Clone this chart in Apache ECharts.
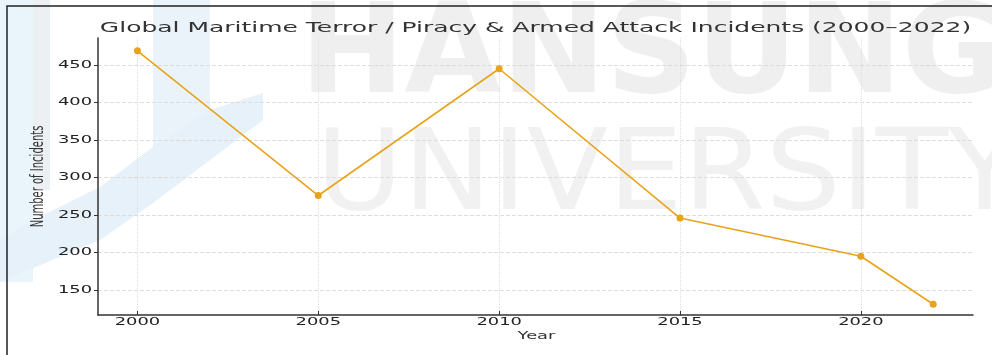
<!DOCTYPE html>
<html>
<head>
<meta charset="utf-8">
<script src="https://cdn.jsdelivr.net/npm/echarts@6/dist/echarts.min.js"></script>
<style>
  html, body { margin: 0; padding: 0; background: #fff; }
  #main { width: 992px; height: 355px; }
</style>
</head>
<body>
<div id="main"></div>
<script>
// data
var years = [2000, 2005, 2010, 2015, 2020, 2022];
var incidents = [469, 276, 445, 246, 195, 131];
var xTicks = [2000, 2005, 2010, 2015, 2020];
var yTicks = [150, 200, 250, 300, 350, 400, 450];

var titleText = 'Global Maritime Terror / Piracy & Armed Attack Incidents (2000\u20132022)';
var xName = 'Year';
var yName = 'Number of Incidents';

var chart = echarts.init(document.getElementById('main'));

var lineColor = '#E9A31B';
var textColor = '#333';
var font = 'DejaVu Sans';
var stretch = 1.7; // the picture is wider than it is tall, text looks stretched

var xMin = 1998.91, xMax = 2023.1;
var yMin = 116.7, yMax = 486;

// background decoration (watermark + frame)
var deco = [
  {
    type: 'rect', z: -20, silent: true,
    shape: { x: 0, y: 0, width: 33, height: 282 },
    style: { fill: '#e9f4fb' }
  },
  {
    type: 'rect', z: -20, silent: true,
    shape: { x: 33, y: 0, width: 17, height: 190 },
    style: { fill: '#edf0f3' }
  },
  {
    type: 'rect', z: -20, silent: true,
    shape: { x: 153, y: 0, width: 57, height: 160 },
    style: { fill: '#eaf3f9' }
  },
  {
    type: 'polygon', z: -19, silent: true,
    shape: {
      points: [[0, 240], [33, 220], [100, 187], [153, 147], [210, 110], [263, 93],
               [263, 120], [210, 160], [153, 203], [100, 240], [0, 282]]
    },
    style: { fill: '#e6f1f9' }
  },
  {
    type: 'text', z: -10, silent: true,
    x: 300, y: -3,
    style: { text: 'HANSUNG', fontFamily: font, fontWeight: 'bold', fontSize: 125, fill: '#efefef' }
  },
  {
    type: 'text', z: -10, silent: true,
    x: 316, y: 124, scaleX: 1.06,
    style: { text: 'UNIVERSITY', fontFamily: font, fontSize: 112, fill: '#f1f1f1' }
  },
  {
    type: 'rect', z: 100, silent: true,
    shape: { x: 7, y: 6, width: 1000, height: 400 },
    style: { fill: 'none', stroke: '#222', lineWidth: 1.5 }
  }
];

var option = {
  backgroundColor: '#fff',
  animation: false,
  grid: { left: 98, right: 19, top: 38, bottom: 40 },
  xAxis: {
    type: 'value',
    min: xMin,
    max: xMax,
    axisLine: { lineStyle: { color: '#333', width: 1.5 } },
    axisTick: { show: true, inside: true, length: 4, customValues: xTicks, lineStyle: { color: '#333' } },
    axisLabel: { show: false, customValues: xTicks },
    splitLine: { show: true, lineStyle: { color: '#ddd', type: 'dotted', width: 1 } }
  },
  yAxis: {
    type: 'value',
    min: yMin,
    max: yMax,
    axisLine: { show: true, lineStyle: { color: '#333', width: 1.5 } },
    axisTick: { show: true, length: 4, customValues: yTicks, lineStyle: { color: '#333' } },
    axisLabel: { show: false, customValues: yTicks },
    splitLine: { show: true, lineStyle: { color: '#ddd', type: 'dashed', width: 1 } }
  },
  graphic: deco,
  series: [
    {
      type: 'line',
      data: years.map(function (y, i) { return [y, incidents[i]]; }),
      symbol: 'circle',
      symbolSize: 7,
      lineStyle: { color: lineColor, width: 1.6 },
      itemStyle: { color: lineColor }
    }
  ]
};

chart.setOption(option);

// texts, stretched sideways like in the picture; positions come from the axes
function txt(s, x, y, size, align, vAlign, color, extra) {
  var el = {
    type: 'text', silent: true, z: 50,
    x: x, y: y, scaleX: stretch,
    style: {
      text: s, fontFamily: font, fontSize: size, fill: color,
      align: align, verticalAlign: vAlign,
      textAlign: align, textVerticalAlign: vAlign
    }
  };
  if (extra) for (var k in extra) el[k] = extra[k];
  return el;
}

var texts = [];
yTicks.forEach(function (v) {
  var p = chart.convertToPixel({ gridIndex: 0 }, [xMin, v]);
  texts.push(txt(String(v), p[0] - 6, p[1], 10.5, 'right', 'middle', '#222'));
});
xTicks.forEach(function (v) {
  var p = chart.convertToPixel({ gridIndex: 0 }, [v, yMin]);
  texts.push(txt(String(v), p[0], p[1] + 7, 10.5, 'center', 'middle', '#222'));
});

var pTL = chart.convertToPixel({ gridIndex: 0 }, [xMin, yMax]);
var pBR = chart.convertToPixel({ gridIndex: 0 }, [xMax, yMin]);
var midX = (pTL[0] + pBR[0]) / 2;
var midY = (pTL[1] + pBR[1]) / 2;

texts.push(txt(titleText, midX, pTL[1] - 10, 14.7, 'center', 'middle', textColor));
texts.push(txt(xName, midX + 1, pBR[1] + 21, 10.5, 'center', 'middle', textColor));
texts.push(txt(yName, pTL[0] - 59, midY, 10, 'center', 'middle', textColor,
  { scaleX: 1, scaleY: stretch, rotation: Math.PI / 2 }));

chart.setOption({ graphic: deco.concat(texts) });
</script>
</body>
</html>
